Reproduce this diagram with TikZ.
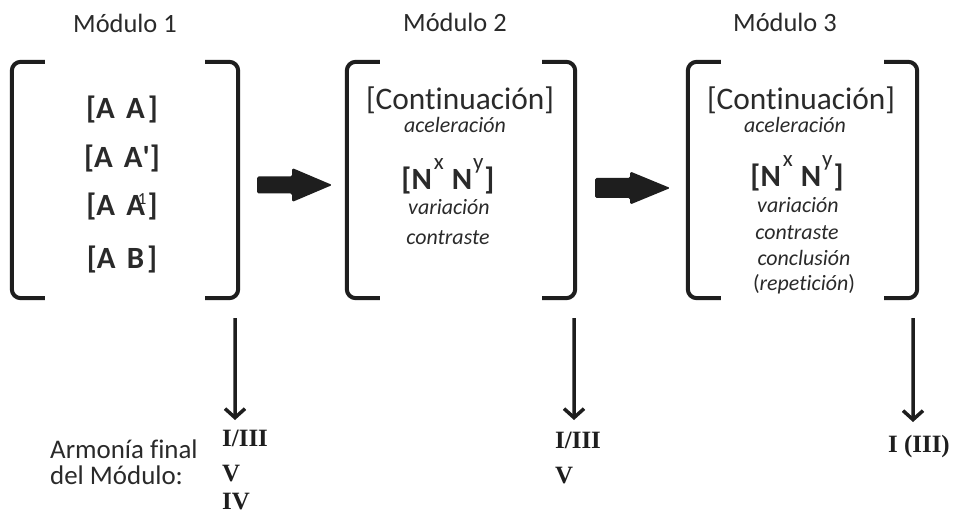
\documentclass[tikz,border=0pt]{standalone}
\usepackage{fontspec}
\setmainfont{Carlito}[Ligatures={TeX,NoCommon}]
\newfontfamily\romfont{Liberation Serif}
\newfontfamily\rawcarlito{Carlito}[Ligatures=NoCommon]
\usetikzlibrary{arrows.meta}
\definecolor{ink}{HTML}{1E1E1E}
\definecolor{txt}{HTML}{2A2A2A}
\newcommand\supchar[1]{\raisebox{20bp}{\mdseries\fontsize{23}{23}\selectfont #1}}
\newcommand\drawbrackets[1]{%
  \draw[bracket] ([xshift=33bp]#1.north west) -- (#1.north west) -- (#1.south west) -- ([xshift=33bp]#1.south west);
  \draw[bracket] ([xshift=-33bp]#1.north east) -- (#1.north east) -- (#1.south east) -- ([xshift=-33bp]#1.south east);}
\newcommand\nxny{[N\kern2bp\supchar{x}\kern8bp N\kern1bp\supchar{y}\kern1bp]}
\begin{document}
\begin{tikzpicture}[x=1bp,y=-1bp,
  every node/.style={inner sep=0pt, text=txt},
  modbox/.style={draw=none, minimum width=#1, minimum height=236bp},
  bracket/.style={line width=4bp, draw=ink, rounded corners=9bp},
  title/.style={font=\fontsize{26.5}{30}\selectfont, anchor=base},
  seg/.style={font=\bfseries\fontsize{31}{34}\selectfont, anchor=base},
  cont/.style={font=\fontsize{31.5}{36}\selectfont, anchor=base},
  itl/.style={font=\itshape\fontsize{22}{26}\selectfont, anchor=base},
  nn/.style={font=\bfseries\fontsize{31}{34}\selectfont, anchor=base},
  lab/.style={font=\fontsize{27}{30}\selectfont, anchor=base west},
  rom/.style={font=\romfont\bfseries\fontsize{25}{28}\selectfont, anchor=base west, text=ink},
  blockarrow/.style={fill=ink, rounded corners=1.5bp},
  downarrow/.style={draw=ink, line width=3.5bp, -{Straight Barb[length=9bp,width=20bp]}},
]
\useasboundingbox (0,0) rectangle (959,516);
\fill[white] (0,0) rectangle (959,516);

% titles
\node[title] (t1) at (125,33) {Módulo 1};
\node[title] (t2) at (455,32) {Módulo 2};
\node[title] (t3) at (785,32) {Módulo 3};

% module frames
\node[modbox=226bp] (mod1) at (125,180) {};
\node[modbox=228bp] (mod2) at (461,180) {};
\node[modbox=229bp] (mod3) at (802.5,180) {};
\drawbrackets{mod1}
\drawbrackets{mod2}
\drawbrackets{mod3}

% module 1 content
\node[seg] (s1) at (122,119) {[A\hspace{0.36em}A\kern3bp]};
\node[seg] (s2) at (122,168) {[A\hspace{0.36em}A{\rawcarlito\bfseries '}]};
\node[seg] (s3) at (122,216) {[A\hspace{0.36em}A\kern-7bp\raisebox{11bp}{\mdseries\fontsize{17}{17}\selectfont 1}\kern1bp]};
\node[seg] (s4) at (122,269) {[A\hspace{0.36em}B\kern3bp]};

% module 2 content
\node[cont] (c2) at (460,110) {[Continuación]};
\node[itl] (ac2) at (455,133) {aceleración};
\node[nn] (n2) at (448,190) {\nxny};
\node[itl] (v2) at (449,215) {variación};
\node[itl] (co2) at (448,245) {contraste};

% module 3 content
\node[cont] (c3) at (801,110) {[Continuación]};
\node[itl] (ac3) at (795,133) {aceleración};
\node[nn] (n3) at (797,187) {\nxny};
\node[itl] (v3) at (798,213) {variación};
\node[itl] (co3) at (797,240) {contraste};
\node[itl] (cl3) at (804,266) {conclusión};
\node[itl] (r3) at (804,291) {{\upshape(}repetición{\upshape)}};

% block arrows between modules
\fill[blockarrow] ([shift={(19,5)}]mod1.east) -- ++(0,-8.5) -- ++(35,0) -- ++(0,-8.5) -- ++(40,17) -- ++(-40,17) -- ++(0,-8.5) -- ++(-35,0) -- cycle;
\fill[blockarrow] ([shift={(20,8)}]mod2.east) -- ++(0,-10) -- ++(35,0) -- ++(0,-6.5) -- ++(40,16.5) -- ++(-40,16.5) -- ++(0,-6.5) -- ++(-35,0) -- cycle;

% harmony labels
\node[lab] (h0a) at (50,458) {Armonía final};
\node[lab] (h0b) at (50,484) {del Módulo:};
\node[rom] (h1a) at (222,446) {I/III};
\node[rom] (h1b) at (222,481) {V};
\node[rom] (h1c) at (222,509) {IV};
\node[rom] (h2a) at (555,448) {I/III};
\node[rom] (h2b) at (555,483) {V};
\node[rom] (h3a) at (888,452) {I (III)};

% down arrows
\coordinate (e1) at (235,420);
\coordinate (e2) at (574,420);
\coordinate (e3) at (913,422);
\draw[downarrow] ([shift={(-3,20)}]mod1.south east) -- (e1);
\draw[downarrow] ([shift={(-1,20)}]mod2.south east) -- (e2);
\draw[downarrow] ([shift={(-4,20)}]mod3.south east) -- (e3);
\end{tikzpicture}
\end{document}
